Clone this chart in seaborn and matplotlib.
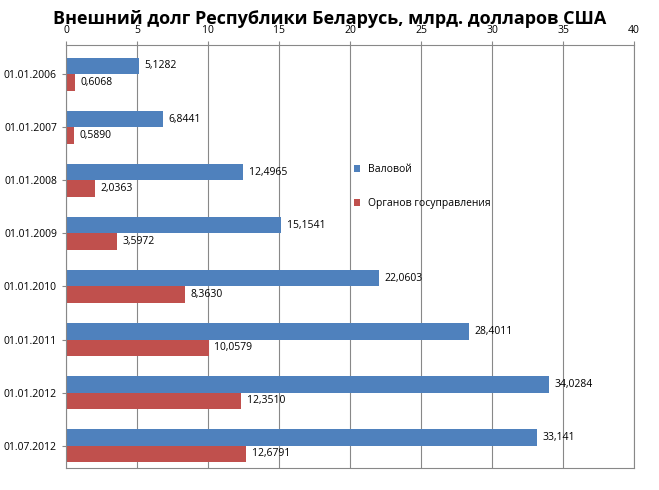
import matplotlib
matplotlib.use("Agg")
import matplotlib.pyplot as plt
import seaborn as sns
import pandas as pd

dates = ["01.01.2006","01.01.2007","01.01.2008","01.01.2009","01.01.2010","01.01.2011","01.01.2012","01.07.2012"]
gross = [5.1282, 6.8441, 12.4965, 15.1541, 22.0603, 28.4011, 34.0284, 33.141]
gov = [0.6068, 0.5890, 2.0363, 3.5972, 8.3630, 10.0579, 12.3510, 12.6791]
gross_lbl = ["5,1282","6,8441","12,4965","15,1541","22,0603","28,4011","34,0284","33,141"]
gov_lbl = ["0,6068","0,5890","2,0363","3,5972","8,3630","10,0579","12,3510","12,6791"]
series = ["Валовой", "Органов госуправления"]

df = pd.DataFrame({"date": dates*2, "value": gross+gov,
                   "series": [series[0]]*8 + [series[1]]*8})

plt.rcParams["font.family"] = "Open Sans"
fig = plt.figure(figsize=(6.59, 4.90), dpi=100)
ax = fig.add_axes([66/659, 22/490, 568/659, 423/490])
sns.barplot(data=df, y="date", x="value", hue="series", orient="h",
            palette=["#4F81BD", "#C0504D"], saturation=1, width=0.62, ax=ax, legend=True)
ax.set_xlim(0, 40)
ax.set_ylim(7.42, -0.55)
ax.set_xticks(range(0, 41, 5))
ax.xaxis.tick_top()
ax.tick_params(axis="both", labelsize=7.5, length=3, color="#888888")
ax.set_xlabel(""); ax.set_ylabel("")
ax.grid(axis="x", color="#888888", linewidth=0.8)
ax.set_axisbelow(True)
for s in ax.spines.values():
    s.set_color("#888888")
for cont, lbls in zip(ax.containers, [gross_lbl, gov_lbl]):
    ax.bar_label(cont, labels=lbls, padding=4, fontsize=7.5)
ax.legend(loc="upper left", bbox_to_anchor=(0.49, 0.74), frameon=False,
          fontsize=7.5, handlelength=0.6, handleheight=0.6, labelspacing=2.2)
fig.text(0.5, 0.962, "Внешний долг Республики Беларусь, млрд. долларов США",
         ha="center", va="center", fontsize=13, fontweight="bold")
fig.savefig("out.png", dpi=100)
